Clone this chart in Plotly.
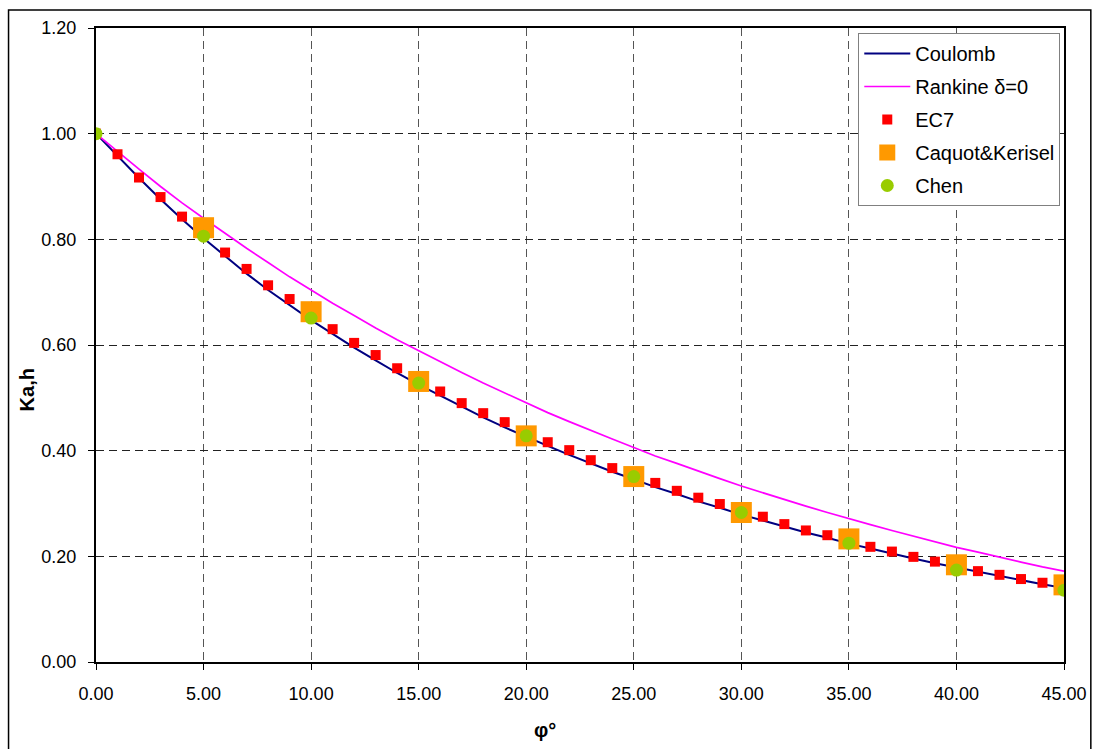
import plotly.graph_objects as go

phi_deg = list(range(0, 46))

coulomb = [1.000, 0.957, 0.916, 0.876, 0.838, 0.802, 0.768, 0.735, 0.704, 0.675,
           0.647, 0.621, 0.595, 0.571, 0.547, 0.525, 0.504, 0.483, 0.463, 0.444,
           0.426, 0.409, 0.392, 0.376, 0.360, 0.346, 0.331, 0.318, 0.304, 0.292,
           0.279, 0.268, 0.256, 0.245, 0.235, 0.224, 0.215, 0.205, 0.196, 0.187,
           0.179, 0.170, 0.162, 0.155, 0.147, 0.140]

rankine = [1.000, 0.966, 0.933, 0.900, 0.869, 0.840, 0.811, 0.783, 0.756, 0.729,
           0.704, 0.679, 0.656, 0.632, 0.610, 0.589, 0.568, 0.548, 0.528, 0.509,
           0.490, 0.472, 0.455, 0.438, 0.422, 0.406, 0.390, 0.376, 0.361, 0.347,
           0.333, 0.320, 0.307, 0.295, 0.283, 0.271, 0.260, 0.249, 0.238, 0.228,
           0.217, 0.208, 0.198, 0.189, 0.180, 0.172]

ec7 = [1.000, 0.961, 0.917, 0.880, 0.843, 0.810, 0.775, 0.744, 0.713, 0.687,
       0.657, 0.630, 0.604, 0.581, 0.556, 0.534, 0.512, 0.490, 0.471, 0.454,
       0.434, 0.416, 0.401, 0.382, 0.367, 0.353, 0.339, 0.324, 0.311, 0.299,
       0.286, 0.275, 0.261, 0.249, 0.240, 0.229, 0.218, 0.209, 0.199, 0.190,
       0.181, 0.172, 0.165, 0.157, 0.150, 0.143]

phi_5 = [5, 10, 15, 20, 25, 30, 35, 40, 45]
caquot = [0.822, 0.663, 0.531, 0.428, 0.351, 0.283, 0.233, 0.184, 0.146]

phi_chen = [0, 5, 10, 15, 20, 25, 30, 35, 40, 45]
chen = [1.000, 0.806, 0.651, 0.528, 0.428, 0.351, 0.283, 0.225, 0.174, 0.136]

y_ticks = [0.0, 0.2, 0.4, 0.6, 0.8, 1.0, 1.2]
x_ticks = [0, 5, 10, 15, 20, 25, 30, 35, 40, 45]

FONT = "Arial, 'Liberation Sans', sans-serif"

fig = go.Figure()
fig.add_trace(go.Scatter(x=phi_deg, y=coulomb, mode="lines", name="Coulomb",
                         line=dict(color="#000080", width=2), legendgroup="a"))
fig.add_trace(go.Scatter(x=phi_deg, y=rankine, mode="lines", name="Rankine δ=0",
                         line=dict(color="#FF00FF", width=1.7), legendgroup="b"))
fig.add_trace(go.Scatter(x=phi_deg, y=ec7, mode="markers", name="EC7",
                         marker=dict(symbol="square", size=10, color="#FF0000"),
                         legendgroup="c"))
fig.add_trace(go.Scatter(x=phi_5, y=caquot, mode="markers", name="Caquot&Kerisel",
                         marker=dict(symbol="square", size=21, color="#FF9900"),
                         legendgroup="d"))
fig.add_trace(go.Scatter(x=phi_chen, y=chen, mode="markers", name="Chen",
                         marker=dict(symbol="circle", size=13, color="#99CC00"),
                         legendgroup="e"))

L, R, T, B = 96, 1099 - 1070, 28, 749 - 662
W, H = 1099, 749
pw, ph = W - L - R, H - T - B

def px(xp):
    return (xp - L) / pw

def py(yp):
    return (H - B - yp) / ph

axis_common = dict(
    showline=True, linecolor="black", linewidth=2, mirror=True,
    ticks="outside", ticklen=6, tickcolor="black", tickwidth=1,
    showgrid=True, griddash="8px,5px", gridwidth=1,
    zeroline=False, tickformat=".2f",
    tickfont=dict(family=FONT, size=18, color="black"),
)

fig.update_xaxes(range=[0, 45], tickvals=x_ticks, gridcolor="#555555",
                 ticklabelstandoff=8, **axis_common)
fig.update_yaxes(range=[0, 1.2], tickvals=y_ticks, gridcolor="#222222",
                 ticklabelstandoff=8, **axis_common)

fig.update_layout(
    width=W, height=H,
    margin=dict(l=L, r=R, t=T, b=B, pad=0),
    paper_bgcolor="white", plot_bgcolor="white",
    font=dict(family=FONT, size=18, color="black"),
    showlegend=True,
    legend=dict(x=px(863), y=py(33), xanchor="left", yanchor="top",
                bgcolor="white", bordercolor="#808080", borderwidth=1,
                font=dict(family=FONT, size=20, color="black"),
                traceorder="grouped", tracegroupgap=4,
                itemwidth=46),
    shapes=[dict(type="rect", xref="paper", yref="paper",
                 x0=px(8), x1=px(1097), y0=py(760), y1=py(10),
                 line=dict(color="black", width=1.5), fillcolor="rgba(0,0,0,0)",
                 layer="below")],
    annotations=[
        dict(text="<b>Ka,h</b>", xref="paper", yref="paper", x=px(27), y=py(390),
             xanchor="center", yanchor="middle",
             showarrow=False, textangle=-90, font=dict(family=FONT, size=20, color="black")),
        dict(text="<b>φ°</b>", xref="paper", yref="paper", x=px(548), y=py(730),
             xanchor="center", yanchor="middle",
             showarrow=False, font=dict(family=FONT, size=20, color="black")),
    ],
)

fig.write_html("out.html")
